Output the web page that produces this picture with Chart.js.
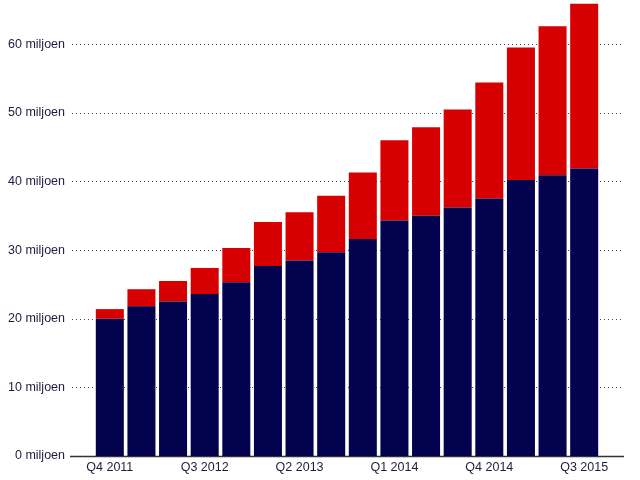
<!DOCTYPE html>
<html>
<head>
<meta charset="utf-8">
<script src="https://cdn.jsdelivr.net/npm/chart.js@4/dist/chart.umd.min.js"></script>
<style>
  html, body { margin: 0; padding: 0; background: #fff; }
  #wrap { width: 640px; height: 480px; position: relative; }
</style>
</head>
<body>
<div id="wrap"><canvas id="quarterChart" width="640" height="480"></canvas></div>
<script>
const quarters = [
  "Q4 2011", "Q1 2012", "Q2 2012", "Q3 2012", "Q4 2012", "Q1 2013", "Q2 2013", "Q3 2013",
  "Q4 2013", "Q1 2014", "Q2 2014", "Q3 2014", "Q4 2014", "Q1 2015", "Q2 2015", "Q3 2015"
];
// lower (navy) part, in millions
const navyValues = [20.0, 21.8, 22.5, 23.6, 25.3, 27.7, 28.5, 29.7, 31.6, 34.3, 35.0, 36.2, 37.5, 40.2, 40.9, 41.9];
// upper (red) part, in millions
const redValues = [1.4, 2.5, 3.0, 3.8, 5.0, 6.4, 7.0, 8.2, 9.7, 11.7, 12.9, 14.3, 16.9, 19.3, 21.7, 24.0];
const yTickValues = [0, 10, 20, 30, 40, 50, 60];

const textColor = "#1d1d3d";
const fontFamily = "'Liberation Sans', Arial, Helvetica, sans-serif";

// dotted grid + solid baseline, a bit wider than the bars
const gridPlugin = {
  id: "dottedGrid",
  beforeDatasetsDraw(chart) {
    const { ctx, chartArea, scales } = chart;
    const x0 = chartArea.left - 22;
    const x1 = chartArea.right + 24;
    ctx.save();
    yTickValues.forEach((v) => {
      const y = Math.round(scales.y.getPixelForValue(v)) + 0.5;
      ctx.beginPath();
      if (v === 0) {
        ctx.setLineDash([]);
        ctx.strokeStyle = "#333";
        ctx.lineWidth = 1.5;
        ctx.moveTo(x0 - 2, y);
      } else {
        ctx.setLineDash([1, 3]);
        ctx.strokeStyle = "#444";
        ctx.lineWidth = 1;
        ctx.moveTo(x0, y);
      }
      ctx.lineTo(x1, y);
      ctx.stroke();
    });
    ctx.restore();
  },
};

new Chart(document.getElementById("quarterChart").getContext("2d"), {
  type: "bar",
  data: {
    labels: quarters,
    datasets: [
      { data: navyValues, backgroundColor: "#02024f", borderWidth: 0 },
      { data: redValues, backgroundColor: "#d60000", borderWidth: 0 },
    ],
  },
  options: {
    responsive: false,
    animation: false,
    devicePixelRatio: 1,
    layout: { padding: { top: 3, right: 40, bottom: 0, left: 0 } },
    plugins: { legend: { display: false }, tooltip: { enabled: false } },
    datasets: { bar: { categoryPercentage: 1, barPercentage: 0.886 } },
    scales: {
      x: {
        stacked: true,
        grid: { display: false, drawTicks: false },
        border: { display: false },
        afterFit: (s) => { s.height = 24; },
        ticks: {
          autoSkip: false,
          maxRotation: 0,
          padding: 4,
          color: textColor,
          font: { family: fontFamily, size: 12.5 },
          callback: (val, i) => (i % 3 === 0 ? quarters[i] : ""),
        },
      },
      y: {
        stacked: true,
        min: 0,
        max: 66,
        grid: { display: false, drawTicks: false },
        border: { display: false },
        afterFit: (s) => {
          s.width = 94;
          s.paddingTop = 0;
          s.paddingBottom = 0;
        },
        afterBuildTicks: (s) => {
          s.ticks = yTickValues.map((v) => ({ value: v }));
        },
        ticks: {
          padding: 29,
          color: textColor,
          font: { family: fontFamily, size: 12.5 },
          callback: (v) => v + " miljoen",
        },
      },
    },
  },
  plugins: [gridPlugin],
});
</script>
</body>
</html>
